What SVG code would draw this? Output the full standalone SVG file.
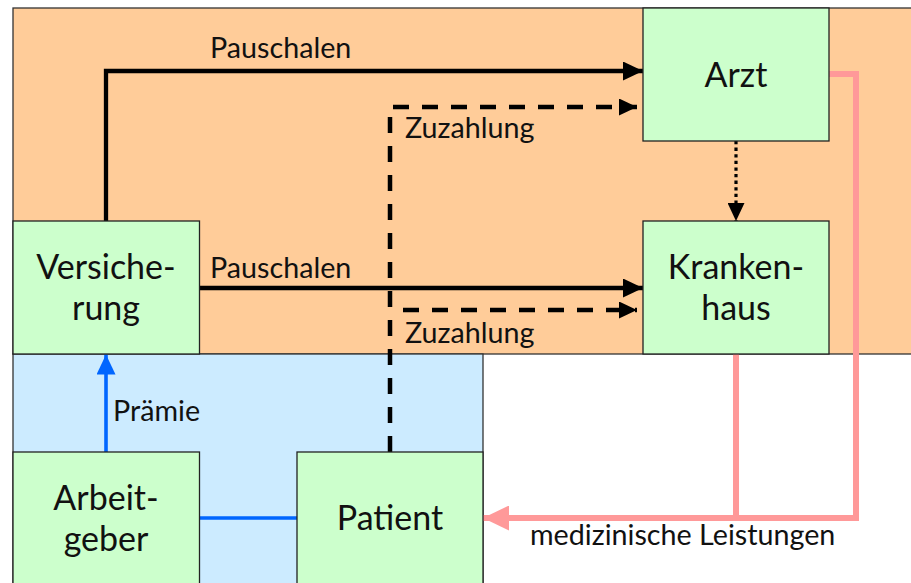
<svg xmlns="http://www.w3.org/2000/svg" width="911" height="583" viewBox="0 0 911 583">
<style>
.node{fill:#CCFFCC;stroke:#222;stroke-width:1.3}
.nt{font-family:Lato,"Open Sans",sans-serif;font-size:34px;fill:#111;text-anchor:middle}
.lt{font-family:Lato,"Open Sans",sans-serif;font-size:28.7px;fill:#111}
.solid{fill:none;stroke:#000;stroke-width:4.3}
.dash{fill:none;stroke:#000;stroke-width:4.5;stroke-dasharray:16 13}
.dot{fill:none;stroke:#000;stroke-width:3.2;stroke-dasharray:3.3 3.3}
.pink{fill:none;stroke:#FF9999;stroke-width:6}
.blue{fill:none;stroke:#0066FF;stroke-width:3.6}
</style>
<defs>
<marker id="ah" markerUnits="userSpaceOnUse" viewBox="0 0 20 19" refX="20" refY="9.5" markerWidth="20" markerHeight="19" orient="auto"><path d="M0,0 L20,9.5 L0,19 Z" fill="#000"/></marker>
<marker id="ahs" markerUnits="userSpaceOnUse" viewBox="0 0 18 17" refX="18" refY="8.5" markerWidth="18" markerHeight="17" orient="auto"><path d="M0,0 L18,8.5 L0,17 Z" fill="#000"/></marker>
<marker id="ahp" markerUnits="userSpaceOnUse" viewBox="0 0 26 25" refX="26" refY="12.5" markerWidth="26" markerHeight="25" orient="auto"><path d="M0,0 L26,12.5 L0,25 Z" fill="#FF9999"/></marker>
<marker id="ahb" markerUnits="userSpaceOnUse" viewBox="0 0 20 19" refX="20" refY="9.5" markerWidth="20" markerHeight="19" orient="auto"><path d="M0,0 L20,9.5 L0,19 Z" fill="#0066FF"/></marker>
</defs>
<rect width="911" height="583" fill="#fff"/>
<g id="regions">
<rect x="13" y="8" width="905" height="346" fill="#FFCC99" stroke="#333" stroke-width="1.3"/>
<rect x="13" y="354" width="470" height="240" fill="#CCEBFF" stroke="#333" stroke-width="1.3"/>
</g>
<g id="connectors">
<path class="solid" d="M106,221 V71 H643" marker-end="url(#ah)"/>
<path class="solid" d="M199.5,288 H643" marker-end="url(#ah)"/>
<path class="dash" d="M390,452 V107 H637" marker-end="url(#ahs)"/>
<path class="dash" d="M403,310 H637" marker-end="url(#ahs)"/>
<path class="dot" d="M736,141 V221" marker-end="url(#ahs)"/>
<path class="pink" d="M829,74 H856 V518 H483" marker-end="url(#ahp)"/>
<path class="pink" d="M736,354 V518"/>
<path class="blue" d="M106,452 V354.5" marker-end="url(#ahb)"/>
<path class="blue" d="M199.5,518 H297"/>
<text class="lt" x="210" y="58">Pauschalen</text>
<text class="lt" x="210" y="278">Pauschalen</text>
<text class="lt" x="405" y="138">Zuzahlung</text>
<text class="lt" x="405" y="343">Zuzahlung</text>
<text class="lt" x="113" y="421">Prämie</text>
<text class="lt" x="530" y="545">medizinische Leistungen</text>
</g>
<g id="arzt"><rect class="node" x="643" y="8" width="186" height="133"/><text class="nt" x="736" y="87">Arzt</text></g>
<g id="krankenhaus"><rect class="node" x="643" y="221" width="186" height="133"/><text class="nt" x="736" y="279">Kranken-</text><text class="nt" x="736" y="320">haus</text></g>
<g id="versicherung"><rect class="node" x="13" y="221" width="186.5" height="133"/><text class="nt" x="106" y="279">Versiche-</text><text class="nt" x="106" y="320">rung</text></g>
<g id="arbeitgeber"><rect class="node" x="13" y="452" width="186.5" height="140"/><text class="nt" x="106" y="510">Arbeit-</text><text class="nt" x="106" y="551">geber</text></g>
<g id="patient"><rect class="node" x="297" y="452" width="186" height="140"/><text class="nt" x="390" y="530">Patient</text></g>
</svg>
